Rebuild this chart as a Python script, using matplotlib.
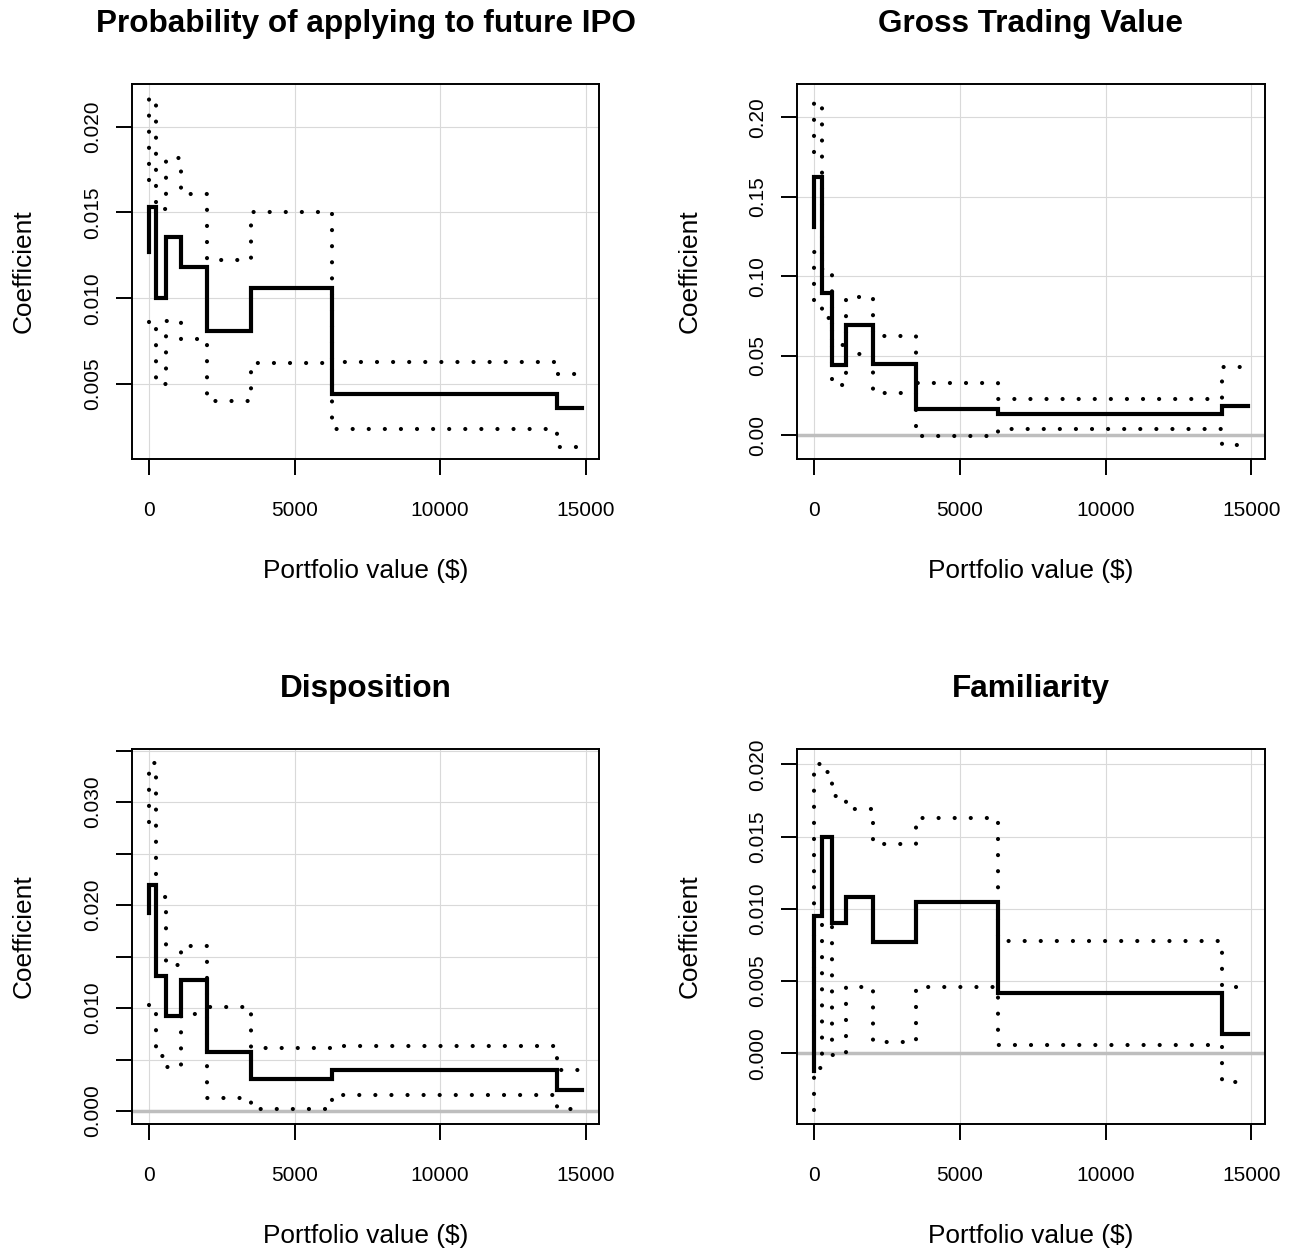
import numpy as np
import matplotlib.pyplot as plt

plt.rcParams['font.family'] = ['Liberation Sans', 'DejaVu Sans']

W, H = 1292, 1253

# portfolio value ($) where each step starts; the last entry is where the last step ends
breaks = [0, 0, 250, 600, 1100, 2000, 3500, 6300, 14000, 14875]

ipo_coef = [0.0127, 0.0153, 0.0100, 0.01355, 0.0118, 0.0081, 0.01057, 0.0044, 0.00357]
ipo_upper = [0.0169, 0.0217, 0.0152, 0.0182, 0.0161, 0.0122, 0.0150, 0.0063, 0.0056]
ipo_lower = [0.0086, 0.0087, 0.0050, 0.0087, 0.0076, 0.0040, 0.0062, 0.0024, 0.0013]

gtv_coef = [0.131, 0.1626, 0.0892, 0.0441, 0.0693, 0.0447, 0.0162, 0.0132, 0.0183]
gtv_upper = [0.178, 0.2095, 0.1043, 0.0567, 0.0871, 0.0625, 0.0325, 0.0225, 0.0426]
gtv_lower = [0.085, 0.115, 0.0738, 0.0315, 0.0512, 0.0265, -0.0008, 0.0038, -0.0062]

disp_coef = [0.0192, 0.0219, 0.0131, 0.0092, 0.0127, 0.0057, 0.0031, 0.0040, 0.0020]
disp_upper = [0.0281, 0.0338, 0.0208, 0.0142, 0.0160, 0.0101, 0.0061, 0.0063, 0.0040]
disp_lower = [0.0103, 0.0098, 0.0053, 0.0043, 0.0094, 0.0013, 0.0002, 0.0016, 0.0002]

fam_coef = [-0.0012, 0.0095, 0.0150, 0.0090, 0.0108, 0.0077, 0.01045, 0.0042, 0.0013]
fam_upper = [0.0015, 0.0200, 0.0195, 0.0178, 0.0169, 0.0145, 0.0163, 0.0078, 0.0046]
fam_lower = [-0.0039, -0.0010, 0.0090, -0.0001, 0.0046, 0.0008, 0.0046, 0.0006, -0.0020]

xticks = [0, 5000, 10000, 15000]
xticklabels = ['0', '5000', '10000', '15000']

ipo_yticks = [0.005, 0.010, 0.015, 0.020]
ipo_ylabels = ['0.005', '0.010', '0.015', '0.020']
gtv_yticks = [0.0, 0.05, 0.10, 0.15, 0.20]
gtv_ylabels = ['0.00', '0.05', '0.10', '0.15', '0.20']
disp_yticks = [0.0, 0.005, 0.010, 0.015, 0.020, 0.025, 0.030, 0.035]
disp_ylabels = ['0.000', '', '0.010', '', '0.020', '', '0.030', '']
fam_yticks = [0.0, 0.005, 0.010, 0.015, 0.020]
fam_ylabels = ['0.000', '0.005', '0.010', '0.015', '0.020']

panels = [
    dict(title='Probability of applying to future IPO', coef=ipo_coef, upper=ipo_upper, lower=ipo_lower,
         yticks=ipo_yticks, ylabels=ipo_ylabels, ylim=(0.000625, 0.02249), zero=False,
         box=(131.7, 84, 599.3, 459)),
    dict(title='Gross Trading Value', coef=gtv_coef, upper=gtv_upper, lower=gtv_lower,
         yticks=gtv_yticks, ylabels=gtv_ylabels, ylim=(-0.0151, 0.2210), zero=True,
         box=(797, 84, 1265, 459)),
    dict(title='Disposition', coef=disp_coef, upper=disp_upper, lower=disp_lower,
         yticks=disp_yticks, ylabels=disp_ylabels, ylim=(-0.00126, 0.03515), zero=True,
         box=(131.7, 749, 599.3, 1124)),
    dict(title='Familiarity', coef=fam_coef, upper=fam_upper, lower=fam_lower,
         yticks=fam_yticks, ylabels=fam_ylabels, ylim=(-0.0049, 0.02106), zero=True,
         box=(797, 749, 1265, 1124)),
]


def steps(vals):
    x = np.repeat(breaks, 2)[1:-1]
    y = np.repeat(vals, 2)
    return x, y


def fx(x):
    return x / W


def fy(y):
    return 1 - y / H


fig = plt.figure(figsize=(W / 100, H / 100), dpi=100)

for p in panels:
    l, t, r, b = p['box']
    ax = fig.add_axes([fx(l), fy(b), (r - l) / W, (b - t) / H])
    ax.set_xlim(-595, 15470)
    ax.set_ylim(*p['ylim'])

    ax.set_xticks(xticks)
    ax.set_xticklabels(xticklabels)
    ax.set_yticks(p['yticks'])
    ax.set_yticklabels(p['ylabels'], rotation=90, va='center')
    ax.tick_params(axis='both', length=11.5, width=1.4, labelsize=15)
    ax.tick_params(axis='x', pad=19)
    ax.tick_params(axis='y', pad=10)
    for s in ax.spines.values():
        s.set_linewidth(1.4)

    ax.grid(True, color='#D9D9D9', lw=0.8, zorder=0)
    ax.set_axisbelow(True)

    if p['zero']:
        ax.axhline(0, color='#BEBEBE', lw=2.5, zorder=1)

    for band in (p['upper'], p['lower']):
        x, y = steps(band)
        ax.plot(x, y, color='black', lw=3.0, linestyle=(0, (0.01, 3.85)),
                dash_capstyle='round', zorder=2)
    x, y = steps(p['coef'])
    ax.plot(x, y, color='black', lw=3.0, solid_joinstyle='miter', zorder=3)

    cx = (l + r) / 2
    fig.text(fx(cx), fy(t - 52.3), p['title'], ha='center', va='baseline',
             fontsize=22.7, fontweight='bold')
    fig.text(fx(cx), fy(b + 119.3), 'Portfolio value ($)', ha='center', va='baseline',
             fontsize=18.9)
    fig.text(fx(l - 100.7), fy((t + b) / 2), 'Coefficient', ha='center', va='baseline',
             rotation=90, rotation_mode='anchor', fontsize=18.9)

fig.savefig('out.png', dpi=100)
